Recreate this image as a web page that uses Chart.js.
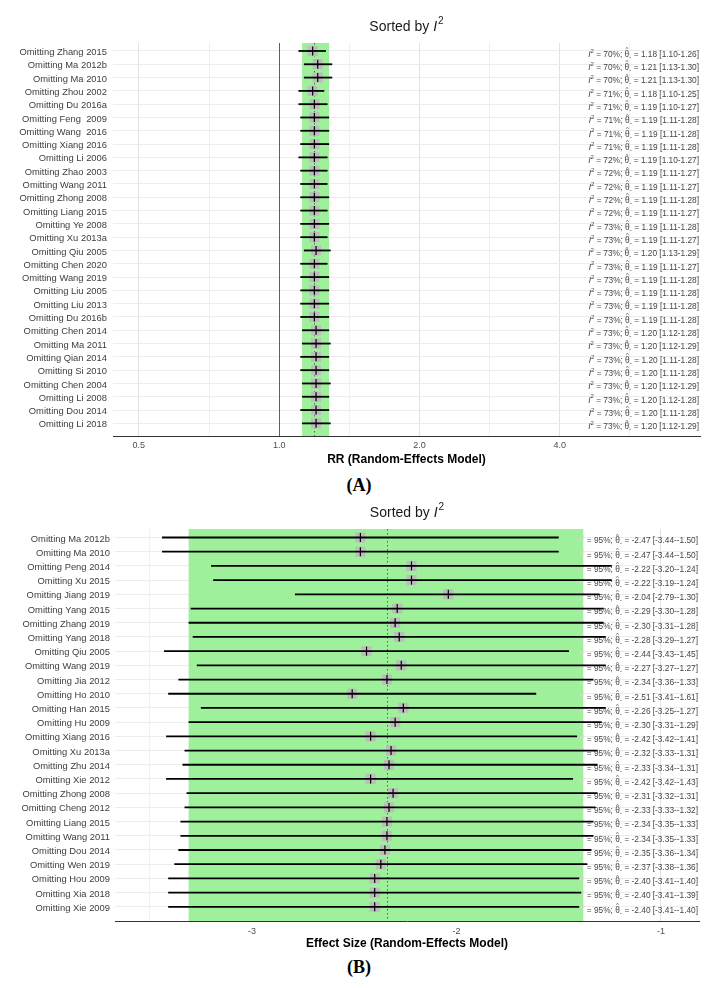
<!DOCTYPE html>
<html>
<head>
<meta charset="utf-8">
<script src="https://cdn.jsdelivr.net/npm/chart.js@4.4.1/dist/chart.umd.min.js"></script>
<style>
body { margin: 0; background: #fff; }
#wrap { position: relative; width: 718px; height: 988px; }
canvas { position: absolute; left: 0; }
#chartA { top: 0; }
#chartB { top: 490px; }
.panel-label { position: absolute; left: 0; width: 718px; text-align: center; line-height: 22px;
  font: bold 18px "Liberation Serif", "DejaVu Serif", serif; color: #000; }
</style>
</head>
<body>
<div id="wrap">
  <canvas id="chartA" width="718" height="470"></canvas>
  <div class="panel-label" style="top:475px;">(A)</div>
  <canvas id="chartB" width="718" height="464"></canvas>
  <div class="panel-label" style="top:957px;">(B)</div>
</div>
<script>
// ---- panel A: leave-one-out, risk ratio ----
const studiesA = ['Omitting Zhang 2015', 'Omitting Ma 2012b', 'Omitting Ma 2010', 'Omitting Zhou 2002',
  'Omitting Du 2016a', 'Omitting Feng  2009', 'Omitting Wang  2016', 'Omitting Xiang 2016', 'Omitting Li 2006',
  'Omitting Zhao 2003', 'Omitting Wang 2011', 'Omitting Zhong 2008', 'Omitting Liang 2015', 'Omitting Ye 2008',
  'Omitting Xu 2013a', 'Omitting Qiu 2005', 'Omitting Chen 2020', 'Omitting Wang 2019', 'Omitting Liu 2005',
  'Omitting Liu 2013', 'Omitting Du 2016b', 'Omitting Chen 2014', 'Omitting Ma 2011', 'Omitting Qian 2014',
  'Omitting Si 2010', 'Omitting Chen 2004', 'Omitting Li 2008', 'Omitting Dou 2014', 'Omitting Li 2018'];
const i2A = [70, 70, 70, 71, 71, 71, 71, 71, 72, 72, 72, 72, 72, 73, 73, 73, 73, 73, 73, 73, 73, 73, 73, 73, 73, 73, 73, 73, 73];
const estA = [1.18, 1.21, 1.21, 1.18, 1.19, 1.19, 1.19, 1.19, 1.19, 1.19, 1.19, 1.19, 1.19, 1.19, 1.19,
  1.20, 1.19, 1.19, 1.19, 1.19, 1.19, 1.20, 1.20, 1.20, 1.20, 1.20, 1.20, 1.20, 1.20];
const lowA = [1.10, 1.13, 1.13, 1.10, 1.10, 1.11, 1.11, 1.11, 1.10, 1.11, 1.11, 1.11, 1.11, 1.11, 1.11,
  1.13, 1.11, 1.11, 1.11, 1.11, 1.11, 1.12, 1.12, 1.11, 1.11, 1.12, 1.12, 1.11, 1.12];
const upA = [1.26, 1.30, 1.30, 1.25, 1.27, 1.28, 1.28, 1.28, 1.27, 1.27, 1.27, 1.28, 1.27, 1.28, 1.27,
  1.29, 1.27, 1.28, 1.28, 1.28, 1.28, 1.28, 1.29, 1.28, 1.28, 1.29, 1.28, 1.28, 1.29];
const pooledA = [1.12, 1.19, 1.28]; // lower, estimate, upper
const xTicksA = [0.5, 1, 2, 4];
const xTickLabelsA = ['0.5', '1.0', '2.0', '4.0'];
const xMinorA = [0.7071, 1.4142, 2.8284, 5.6569];

// ---- panel B: leave-one-out, effect size ----
const studiesB = ['Omitting Ma 2012b', 'Omitting Ma 2010', 'Omitting Peng 2014', 'Omitting Xu 2015',
  'Omitting Jiang 2019', 'Omitting Yang 2015', 'Omitting Zhang 2019', 'Omitting Yang 2018', 'Omitting Qiu 2005',
  'Omitting Wang 2019', 'Omitting Jia 2012', 'Omitting Ho 2010', 'Omitting Han 2015', 'Omitting Hu 2009',
  'Omitting Xiang 2016', 'Omitting Xu 2013a', 'Omitting Zhu 2014', 'Omitting Xie 2012', 'Omitting Zhong 2008',
  'Omitting Cheng 2012', 'Omitting Liang 2015', 'Omitting Wang 2011', 'Omitting Dou 2014', 'Omitting Wen 2019',
  'Omitting Hou 2009', 'Omitting Xia 2018', 'Omitting Xie 2009'];
const i2B = [95, 95, 95, 95, 95, 95, 95, 95, 95, 95, 95, 95, 95, 95, 95, 95, 95, 95, 95, 95, 95, 95, 95, 95, 95, 95, 95];
const estB = [-2.47, -2.47, -2.22, -2.22, -2.04, -2.29, -2.30, -2.28, -2.44, -2.27, -2.34, -2.51, -2.26, -2.30,
  -2.42, -2.32, -2.33, -2.42, -2.31, -2.33, -2.34, -2.34, -2.35, -2.37, -2.40, -2.40, -2.40];
const lowB = [-3.44, -3.44, -3.20, -3.19, -2.79, -3.30, -3.31, -3.29, -3.43, -3.27, -3.36, -3.41, -3.25, -3.31,
  -3.42, -3.33, -3.34, -3.42, -3.32, -3.33, -3.35, -3.35, -3.36, -3.38, -3.41, -3.41, -3.41];
const upB = [-1.50, -1.50, -1.24, -1.24, -1.30, -1.28, -1.28, -1.27, -1.45, -1.27, -1.33, -1.61, -1.27, -1.29,
  -1.41, -1.31, -1.31, -1.43, -1.31, -1.32, -1.33, -1.33, -1.34, -1.36, -1.40, -1.39, -1.40];
const pooledB = [-3.31, -2.34, -1.38];
const xTicksB = [-3, -2, -1];
const xTickLabelsB = ['-3', '-2', '-1'];
const xMinorB = [-3.5, -2.5, -1.5];

const FONT = "'Liberation Sans', Arial, sans-serif";
const TEXT = '#454545';

function drawTitle(ctx, cx, cy) {
    ctx.save();
    ctx.fillStyle = '#1a1a1a';
    ctx.textBaseline = 'middle';
    ctx.textAlign = 'left';
    ctx.font = `14px ${FONT}`;
    const w1 = ctx.measureText('Sorted by ').width;
    ctx.font = `italic 14px ${FONT}`;
    const wI = ctx.measureText('I').width;
    ctx.font = `10px ${FONT}`;
    const w2 = ctx.measureText('2').width;
    let x0 = cx - (w1 + wI + w2 + 1) / 2;
    ctx.font = `14px ${FONT}`;
    ctx.fillText('Sorted by ', x0, cy);
    x0 += w1;
    ctx.font = `italic 14px ${FONT}`;
    ctx.fillText('I', x0, cy);
    x0 += wI + 1;
    ctx.font = `10px ${FONT}`;
    ctx.fillText('2', x0, cy - 6);
    ctx.restore();
}

// "I2 = 70%; theta-hat. = 1.18 [1.10-1.26]" right aligned at `right`
function drawStat(ctx, right, yc, i2, est, lo, hi, faintI) {
    const main = `8.3px ${FONT}`;
    const small = `6px ${FONT}`;
    const seg1 = ` = ${i2}%; `;
    const seg2 = ` = ${est.toFixed(2)} [${lo.toFixed(2)}-${hi.toFixed(2)}]`;
    ctx.font = `italic ${main}`;
    const wI = ctx.measureText('I').width;
    ctx.font = small;
    const w2 = ctx.measureText('2').width;
    ctx.font = main;
    const wDot = ctx.measureText('.').width;
    const w1 = ctx.measureText(seg1).width;
    const wT = ctx.measureText('θ').width;
    const wS = ctx.measureText(seg2).width;
    let xx = right - (wI + w2 + w1 + wT + wDot + wS);

    ctx.textBaseline = 'middle';
    ctx.textAlign = 'left';
    ctx.fillStyle = faintI ? '#d6d6d6' : TEXT;
    ctx.font = `italic ${main}`;
    ctx.fillText('I', xx, yc);
    xx += wI;
    ctx.font = small;
    ctx.fillText('2', xx, yc - 3.5);
    xx += w2;
    ctx.fillStyle = TEXT;
    ctx.font = main;
    ctx.fillText(seg1, xx, yc);
    xx += w1;
    ctx.fillText('θ', xx, yc);
    ctx.fillText('.', xx + wT, yc + 1);
    ctx.font = small;
    ctx.textAlign = 'center';
    ctx.fillText('^', xx + wT / 2, yc - 5);
    ctx.textAlign = 'left';
    xx += wT + wDot;
    ctx.font = main;
    ctx.fillText(seg2, xx, yc);
}

function makeDecor(cfg) {
    return {
        id: 'forestDecor',
        beforeDatasetsDraw(chart) {
            const { ctx, chartArea: a, scales: { x, y } } = chart;
            ctx.save();
            // pooled confidence band
            const b1 = x.getPixelForValue(cfg.pooled[0]);
            const b2 = x.getPixelForValue(cfg.pooled[2]);
            ctx.fillStyle = '#9ef19a';
            ctx.fillRect(b1, a.top, b2 - b1, a.bottom - a.top);
            // line of no effect
            if (cfg.nullValue !== undefined) {
                const nx = Math.round(x.getPixelForValue(cfg.nullValue)) + 0.5;
                ctx.strokeStyle = '#4f4fe6';
                ctx.lineWidth = 1;
                ctx.beginPath();
                ctx.moveTo(nx, a.top);
                ctx.lineTo(nx, a.bottom);
                ctx.stroke();
            }
            // pooled estimate
            const px = Math.round(x.getPixelForValue(cfg.pooled[1])) + 0.5;
            ctx.strokeStyle = '#2f7f2f';
            ctx.lineWidth = 1;
            ctx.setLineDash([1.5, 2.5]);
            ctx.beginPath();
            ctx.moveTo(px, a.top);
            ctx.lineTo(px, a.bottom);
            ctx.stroke();
            ctx.setLineDash([]);
            // stats text on the right
            cfg.est.forEach((e, i) => {
                drawStat(ctx, a.right - 1, y.getPixelForValue(i) + 3.5, cfg.i2[i], e, cfg.low[i], cfg.up[i], cfg.faintI);
            });
            ctx.restore();
        },
        afterDatasetDraw(chart, args) {
            if (args.index !== 1) return; // after the grey squares, before the tick marks
            const { ctx, scales: { x, y } } = chart;
            ctx.save();
            ctx.strokeStyle = '#000';
            ctx.lineWidth = 1.8;
            cfg.est.forEach((e, i) => {
                const yy = y.getPixelForValue(i);
                ctx.beginPath();
                ctx.moveTo(x.getPixelForValue(cfg.low[i]), yy);
                ctx.lineTo(x.getPixelForValue(cfg.up[i]), yy);
                ctx.stroke();
            });
            ctx.restore();
        },
        afterDraw(chart) {
            const a = chart.chartArea;
            drawTitle(chart.ctx, (a.left + a.right) / 2, cfg.titleY);
        }
    };
}

function buildForest(id, cfg) {
    const allTicks = cfg.xMajor.concat(cfg.xMinor).sort((p, q) => p - q);
    new Chart(document.getElementById(id), {
        type: 'scatter',
        data: {
            datasets: [
                {
                    data: cfg.est.map((v, i) => ({ x: v, y: i })),
                    backgroundColor: '#000',
                    borderColor: '#000',
                    pointStyle: 'line',
                    pointRotation: 90,
                    pointRadius: 4.5,
                    pointBorderColor: '#000',
                    pointBorderWidth: 1.2
                },
                {
                    data: cfg.est.map((v, i) => ({ x: v, y: i })),
                    backgroundColor: '#bdbdbd',
                    borderColor: '#bdbdbd',
                    pointStyle: 'rect',
                    pointRadius: 7.2,
                    pointBackgroundColor: '#bdbdbd',
                    pointBorderColor: '#bdbdbd',
                    pointBorderWidth: 0
                }
            ]
        },
        options: {
            responsive: false,
            animation: false,
            devicePixelRatio: 1,
            layout: { padding: { top: cfg.padTop, right: cfg.padRight, left: 0, bottom: 0 } },
            plugins: { legend: { display: false }, tooltip: { enabled: false }, colors: { enabled: false } },
            scales: {
                x: {
                    type: cfg.xType,
                    min: cfg.xMin,
                    max: cfg.xMax,
                    afterBuildTicks: (s) => { s.ticks = allTicks.map(v => ({ value: v })); },
                    afterFit: (s) => { s.height = cfg.xHeight; },
                    ticks: {
                        autoSkip: false,
                        maxRotation: 0,
                        padding: cfg.xPad,
                        color: '#4d4d4d',
                        font: { family: FONT, size: 9 },
                        callback: (v) => {
                            const k = cfg.xMajor.indexOf(v);
                            return k >= 0 ? cfg.xLabels[k] : '';
                        }
                    },
                    grid: {
                        drawTicks: false,
                        lineWidth: 1,
                        color: (c) => (c.tick && cfg.xMajor.indexOf(c.tick.value) >= 0) ? '#e3e3e3' : '#f0f0f0'
                    },
                    border: { display: true, color: '#333', width: 1 },
                    title: {
                        display: true,
                        text: cfg.xTitle,
                        color: '#000',
                        font: { family: FONT, size: 12, weight: 'bold' },
                        padding: { top: 0, bottom: 3 }
                    }
                },
                y: {
                    type: 'linear',
                    reverse: true,
                    min: cfg.yMin,
                    max: cfg.yMax,
                    afterBuildTicks: (s) => { s.ticks = cfg.names.map((n, i) => ({ value: i })); },
                    afterFit: (s) => { s.width = cfg.yWidth; },
                    ticks: {
                        autoSkip: false,
                        padding: cfg.yPad,
                        labelOffset: 1.5,
                        color: '#3d3d3d',
                        font: { family: FONT, size: 9.4 },
                        callback: (v) => cfg.names[v]
                    },
                    grid: { color: '#ececec', lineWidth: 1, drawTicks: false },
                    border: { display: false }
                }
            }
        },
        plugins: [makeDecor(cfg)]
    });
}

buildForest('chartA', {
    names: studiesA, i2: i2A, est: estA, low: lowA, up: upA, pooled: pooledA,
    nullValue: 1, faintI: false,
    xType: 'logarithmic', xMin: 0.44, xMax: 8,
    xMajor: xTicksA, xLabels: xTickLabelsA, xMinor: xMinorA,
    xTitle: 'RR (Random-Effects Model)',
    padTop: 43, padRight: 18, yWidth: 113, yPad: 6, xHeight: 34, xPad: 4,
    yMin: -0.6, yMax: 28.95, titleY: 27
});

buildForest('chartB', {
    names: studiesB, i2: i2B, est: estB, low: lowB, up: upB, pooled: pooledB,
    faintI: true,
    xType: 'linear', xMin: -3.67, xMax: -0.814,
    xMajor: xTicksB, xLabels: xTickLabelsB, xMinor: xMinorB,
    xTitle: 'Effect Size (Random-Effects Model)',
    padTop: 39, padRight: 19, yWidth: 115, yPad: 5, xHeight: 33, xPad: 5,
    yMin: -0.6, yMax: 27.0, titleY: 23
});
</script>
</body>
</html>
